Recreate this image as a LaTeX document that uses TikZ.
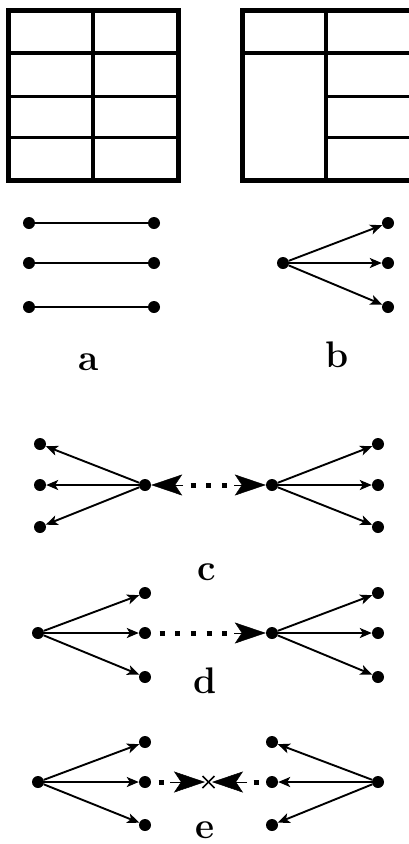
\documentclass[tikz,border=0pt]{standalone}
\usepackage{fontspec}
\usetikzlibrary{arrows.meta,calc}
\begin{document}
\begin{tikzpicture}[x=1pt,y=-1pt,
  dot/.style={circle,fill=black,inner sep=0pt,minimum size=12pt},
  edge/.style={line width=1.9pt,-{Stealth[length=12pt,width=10pt,inset=3pt]}},
  plain/.style={line width=1.9pt},
  bigarrow/.style={line width=0.5pt,-{Stealth[length=31pt,width=21pt,inset=7pt]}},
  dots/.style={line width=5pt,dash pattern=on 5pt off 10.7pt},
  outer/.style={line width=5pt},
  inner/.style={line width=4pt},
  thin/.style={line width=3pt},
  lab/.style={font=\fontsize{37}{37}\selectfont\bfseries,inner sep=0pt}]
\useasboundingbox (0,0) rectangle (409,844);
\clip (0,0) rectangle (409,844);
% grid left
\draw[outer] (8,10) rectangle (178,180);
\draw[inner] (93,10) -- (93,180);
\draw[inner] (8,53) -- (178,53);
\draw[thin] (8,96) -- (178,96);
\draw[thin] (8,137.5) -- (178,137.5);
% grid right
\draw[outer] (242,10) rectangle (412,180);
\draw[inner] (326,10) -- (326,180);
\draw[inner] (242,53) -- (412,53);
\draw[thin] (326,96) -- (412,96);
\draw[thin] (326,137.5) -- (412,137.5);
% a
\node[dot] (a1) at (29,223) {};
\node[dot] (a2) at (154,223) {};
\node[dot] (a3) at (29,263) {};
\node[dot] (a4) at (154,263) {};
\node[dot] (a5) at (29,307) {};
\node[dot] (a6) at (154,307) {};
\draw[plain] (a1) -- (a2);
\draw[plain] (a3) -- (a4);
\draw[plain] (a5) -- (a6);
\node[lab] (la) at (89,362) {a};
% b
\node[dot] (b0) at (283,263) {};
\node[dot] (b1) at (388,223) {};
\node[dot] (b2) at (388,263) {};
\node[dot] (b3) at (388,307) {};
\draw[edge] (b0) -- (b1);
\draw[edge] (b0) -- (b2);
\draw[edge] (b0) -- (b3);
\node[lab] (lb) at (337,355) {b};
% c
\node[dot] (c1) at (40,444) {};
\node[dot] (c2) at (40,485) {};
\node[dot] (c3) at (40,527) {};
\node[dot] (cL) at (145,485) {};
\node[dot] (cR) at (272,485) {};
\node[dot] (c4) at (378,444) {};
\node[dot] (c5) at (378,485) {};
\node[dot] (c6) at (378,527) {};
\draw[edge] (cL) -- (c1);
\draw[edge] (cL) -- (c2);
\draw[edge] (cL) -- (c3);
\draw[edge] (cR) -- (c4);
\draw[edge] (cR) -- (c5);
\draw[edge] (cR) -- (c6);
\coordinate (cbl) at (183,485);
\coordinate (cbr) at (234,485);
\coordinate (cd1) at (190.5,485);
\coordinate (cd2) at (227.5,485);
\draw[bigarrow] (cbl) -- (cL);
\draw[bigarrow] (cbr) -- (cR);
\draw[dots] (cd1) -- (cd2);
\node[lab] (lc) at (207,572) {c};
% d
\node[dot] (d0) at (38,633) {};
\node[dot] (d1) at (145,593) {};
\node[dot] (d2) at (145,633) {};
\node[dot] (d3) at (145,677) {};
\node[dot] (dR) at (272,633) {};
\node[dot] (d4) at (378,593) {};
\node[dot] (d5) at (378,633) {};
\node[dot] (d6) at (378,677) {};
\draw[edge] (d0) -- (d1);
\draw[edge] (d0) -- (d2);
\draw[edge] (d0) -- (d3);
\draw[edge] (dR) -- (d4);
\draw[edge] (dR) -- (d5);
\draw[edge] (dR) -- (d6);
\coordinate (dbr) at (234,633);
\coordinate (dd1) at (159.5,633);
\coordinate (dd2) at (227.5,633);
\draw[dots] (dd1) -- (dd2);
\draw[bigarrow] (dbr) -- (dR);
\node[lab] (ld) at (205,681) {d};
% e
\node[dot] (e0) at (38,782) {};
\node[dot] (e1) at (145,742) {};
\node[dot] (e2) at (145,782) {};
\node[dot] (e3) at (145,825) {};
\node[dot] (e4) at (272,742) {};
\node[dot] (e5) at (272,782) {};
\node[dot] (e6) at (272,825) {};
\node[dot] (eR) at (378,782) {};
\draw[edge] (e0) -- (e1);
\draw[edge] (e0) -- (e2);
\draw[edge] (e0) -- (e3);
\draw[edge] (eR) -- (e4);
\draw[edge] (eR) -- (e5);
\draw[edge] (eR) -- (e6);
\coordinate (ex) at (208.5,782);
\coordinate (ebl) at (170,782);
\coordinate (ebr) at (247,782);
\coordinate (etl) at (205,782);
\coordinate (etr) at (212,782);
\draw[bigarrow] (ebl) -- (etl);
\draw[bigarrow] (ebr) -- (etr);
\draw[dots] (158.5,782) -- (163.5,782);
\draw[dots] (253.5,782) -- (258.5,782);
\draw[line width=1.5pt] ($(ex)+(-6,-6)$) -- ($(ex)+(6,6)$);
\draw[line width=1.5pt] ($(ex)+(-6,6)$) -- ($(ex)+(6,-6)$);
\node[lab] (le) at (205,830) {e};
\end{tikzpicture}
\end{document}
